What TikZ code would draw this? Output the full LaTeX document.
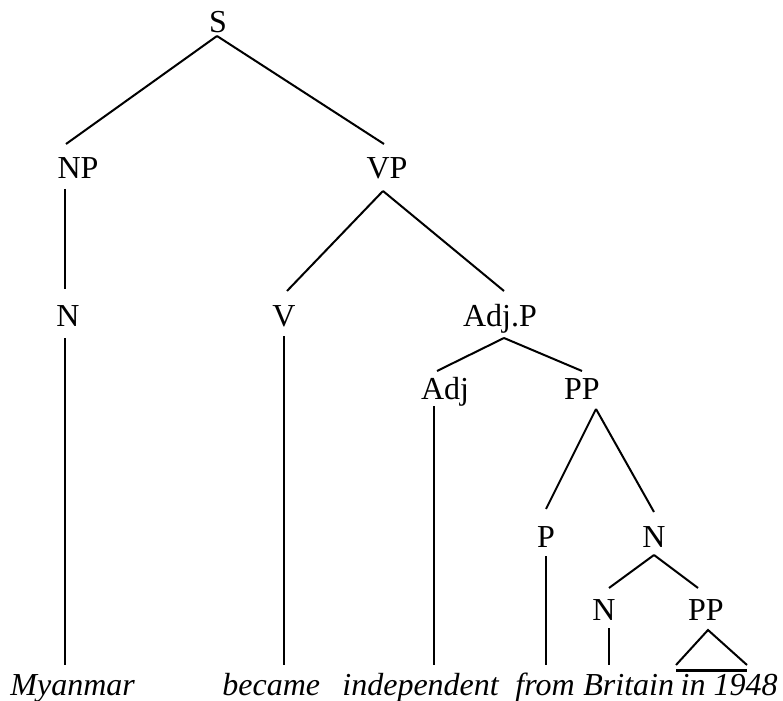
\documentclass[tikz,border=0pt]{standalone}
\usepackage{fontspec}
\setmainfont{LiberationSerif-Regular.ttf}[ItalicFont=LiberationSerif-Italic.ttf,BoldFont=LiberationSerif-Bold.ttf]
\begin{document}
\begin{tikzpicture}[x=0.5pt,y=-0.5pt,
  lbl/.style={anchor=base,inner sep=0pt,font=\fontsize{16}{19}\selectfont},
  word/.style={anchor=base west,inner sep=0pt,font=\fontsize{16}{19}\selectfont\itshape},
  branch/.style={line width=1pt},
  bar/.style={line width=1.5pt}]
\useasboundingbox (0,0) rectangle (783,701);

% category labels
\node[lbl] (s)    at (218,33)  {S};
\node[lbl] (np)   at (78,179)  {NP};
\node[lbl] (vp)   at (387,179) {VP};
\node[lbl] (n1)   at (68,327)  {N};
\node[lbl] (v)    at (284,327) {V};
\node[lbl] (adjp) at (500,327) {Adj.P};
\node[lbl] (adj)  at (445,400) {Adj};
\node[lbl] (pp1)  at (582,400) {PP};
\node[lbl] (p)    at (546,547) {P};
\node[lbl] (n2)   at (654,547) {N};
\node[lbl] (n3)   at (604,620) {N};
\node[lbl] (pp2)  at (706,620) {PP};

% terminal words
\node[word] (w1) at (10,695)  {Myanmar};
\node[word] (w2) at (222,695) {became};
\node[word] (w3) at (342,695) {independent};
\node[word] (w4) at (515,695) {from};
\node[word] (w5) at (583,695) {Britain};
\node[word,anchor=base east] (w6) at (778,695) {in 1948};

% attachment points of the branches
\coordinate (s-b)    at (217,36);
\coordinate (np-t)   at (66,144);
\coordinate (np-b)   at (65,189);
\coordinate (n1-t)   at (65,289);
\coordinate (n1-b)   at (65,338);
\coordinate (w1-t)   at (65,665);
\coordinate (vp-t)   at (384,144);
\coordinate (vp-b)   at (383,191);
\coordinate (v-t)    at (287,291);
\coordinate (v-b)    at (284,336);
\coordinate (w2-t)   at (284,665);
\coordinate (adjp-t) at (504,291);
\coordinate (adjp-b) at (504,338);
\coordinate (adj-t)  at (437,371);
\coordinate (adj-b)  at (434,406);
\coordinate (w3-t)   at (434,665);
\coordinate (pp1-t)  at (582,371);
\coordinate (pp1-b)  at (596,409);
\coordinate (p-t)    at (546,509);
\coordinate (p-b)    at (546,556);
\coordinate (w4-t)   at (546,665);
\coordinate (n2-t)   at (654,512);
\coordinate (n2-b)   at (654,555);
\coordinate (n3-t)   at (609,588);
\coordinate (n3-b)   at (609,628);
\coordinate (w5-t)   at (609,665);
\coordinate (pp2-t)  at (698,588);
\coordinate (pp2-b)  at (708,630);
\coordinate (tri-l)  at (676,665);
\coordinate (tri-r)  at (747,665);
\coordinate (bar-l)  at (676,670.5);
\coordinate (bar-r)  at (747,670.5);

% branches
\draw[branch] (s-b) -- (np-t);
\draw[branch] (s-b) -- (vp-t);
\draw[branch] (np-b) -- (n1-t);
\draw[branch] (n1-b) -- (w1-t);
\draw[branch] (vp-b) -- (v-t);
\draw[branch] (vp-b) -- (adjp-t);
\draw[branch] (v-b) -- (w2-t);
\draw[branch] (adjp-b) -- (adj-t);
\draw[branch] (adjp-b) -- (pp1-t);
\draw[branch] (adj-b) -- (w3-t);
\draw[branch] (pp1-b) -- (p-t);
\draw[branch] (pp1-b) -- (n2-t);
\draw[branch] (p-b) -- (w4-t);
\draw[branch] (n2-b) -- (n3-t);
\draw[branch] (n2-b) -- (pp2-t);
\draw[branch] (n3-b) -- (w5-t);
% roof over the unanalysed PP
\draw[branch] (tri-l) -- (pp2-b) -- (tri-r);
\draw[bar] (bar-l) -- (bar-r);
\end{tikzpicture}
\end{document}
